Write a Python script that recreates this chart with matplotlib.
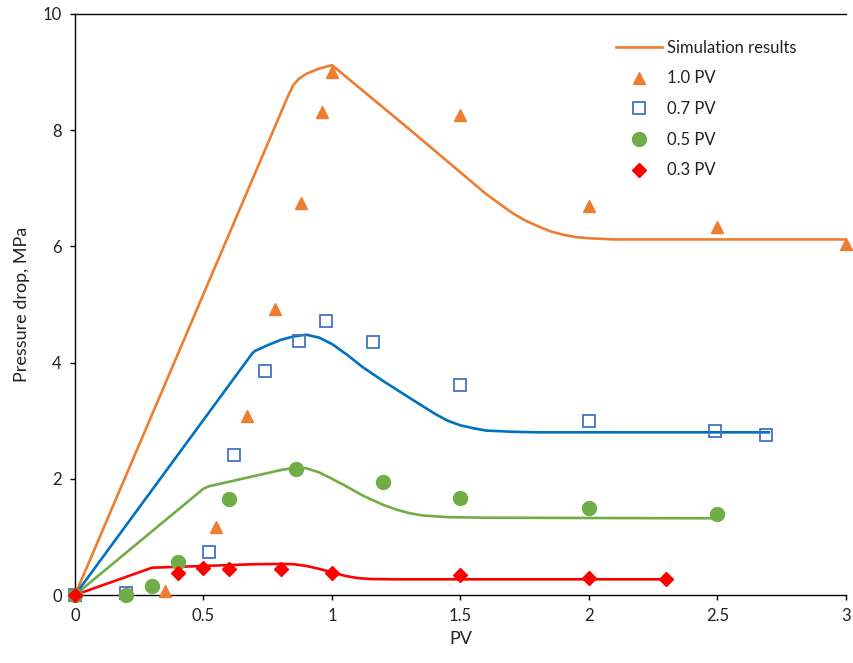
import matplotlib
matplotlib.use("Agg")
import matplotlib.pyplot as plt
from matplotlib.ticker import FixedLocator, FixedFormatter

plt.rcParams['font.family'] = ['Lato', 'DejaVu Sans']

# Simulation curves
sim10_x = [0, 0.83, 0.85, 0.87, 0.90, 0.95, 1.0, 1.3, 1.6, 1.65, 1.7, 1.75, 1.8, 1.85, 1.9, 1.95, 2.0, 2.1, 3.0]
sim10_y = [0, 8.6, 8.78, 8.88, 8.97, 9.06, 9.12, 8.02, 6.9, 6.74, 6.58, 6.45, 6.35, 6.26, 6.2, 6.16, 6.14, 6.12, 6.12]
sim07_x = [0, 0.69, 0.70, 0.75, 0.80, 0.85, 0.90, 0.95, 1.0, 1.06, 1.12, 1.2, 1.31, 1.4, 1.45, 1.5, 1.55, 1.6, 1.7, 1.8, 2.7]
sim07_y = [0, 4.16, 4.2, 4.3, 4.39, 4.45, 4.48, 4.43, 4.32, 4.13, 3.92, 3.68, 3.37, 3.12, 3.0, 2.92, 2.87, 2.83, 2.81, 2.80, 2.80]
sim05_x = [0, 0.5, 0.52, 0.6, 0.7, 0.8, 0.865, 0.9, 0.95, 1.0, 1.06, 1.12, 1.2, 1.25, 1.3, 1.35, 1.45, 1.6, 2.5]
sim05_y = [0, 1.83, 1.87, 1.95, 2.05, 2.15, 2.2, 2.18, 2.11, 2.0, 1.86, 1.71, 1.55, 1.47, 1.41, 1.37, 1.34, 1.33, 1.32]
sim03_x = [0, 0.3, 0.5, 0.7, 0.8, 0.85, 0.9, 0.95, 1.0, 1.05, 1.1, 1.15, 1.25, 2.3]
sim03_y = [0, 0.47, 0.5, 0.53, 0.535, 0.53, 0.5, 0.45, 0.39, 0.33, 0.29, 0.275, 0.27, 0.27]

# Experimental points
exp10_x = [0, 0.35, 0.55, 0.67, 0.78, 0.88, 0.96, 1.0, 1.5, 2.0, 2.5, 3.0]
exp10_y = [0, 0.07, 1.17, 3.08, 4.92, 6.75, 8.31, 9.0, 8.26, 6.7, 6.33, 6.04]
exp07_x = [0, 0.2, 0.52, 0.62, 0.74, 0.87, 0.976, 1.16, 1.5, 2.0, 2.49, 2.69]
exp07_y = [0, 0.03, 0.74, 2.41, 3.86, 4.37, 4.71, 4.35, 3.61, 3.0, 2.82, 2.75]
exp05_x = [0, 0.2, 0.3, 0.4, 0.6, 0.86, 1.2, 1.5, 2.0, 2.5]
exp05_y = [0, 0.0, 0.15, 0.57, 1.65, 2.17, 1.95, 1.67, 1.5, 1.39]
exp03_x = [0, 0.4, 0.5, 0.6, 0.8, 1.0, 1.5, 2.0, 2.3]
exp03_y = [0, 0.38, 0.46, 0.44, 0.44, 0.38, 0.34, 0.3, 0.28]

x_ticks = [0, 0.5, 1, 1.5, 2, 2.5, 3]
x_tick_labels = ["0", "0.5", "1", "1.5", "2", "2.5", "3"]
y_ticks = [0, 2, 4, 6, 8, 10]
y_tick_labels = ["0", "2", "4", "6", "8", "10"]

ORANGE = '#ED7D31'
BLUE = '#0070C0'
SQ = '#4472C4'
GREEN = '#70AD47'
RED = '#FF0000'

W, H = 854, 663
fig = plt.figure(figsize=(W / 100, H / 100), dpi=100)
ax = fig.add_axes([75 / W, (H - 595) / H, 771 / W, 581 / H])

lw = 1.9
ax.plot(sim10_x, sim10_y, color=ORANGE, lw=lw, label='Simulation results', zorder=2)
ax.plot(sim07_x, sim07_y, color=BLUE, lw=lw, zorder=2)
ax.plot(sim05_x, sim05_y, color=GREEN, lw=lw, zorder=2)
ax.plot(sim03_x, sim03_y, color=RED, lw=lw, zorder=2)

ax.plot(exp10_x, exp10_y, ls='none', marker='^', ms=9, color=ORANGE, mec=ORANGE, label='1.0 PV', zorder=3, clip_on=False)
ax.plot(exp07_x, exp07_y, ls='none', marker='s', ms=9, mfc='none', mec=SQ, mew=1.3, label='0.7 PV', zorder=3, clip_on=False)
ax.plot(exp05_x, exp05_y, ls='none', marker='o', ms=10, color=GREEN, mec=GREEN, label='0.5 PV', zorder=3, clip_on=False)
ax.plot(exp03_x, exp03_y, ls='none', marker='D', ms=7.5, color=RED, mec=RED, label='0.3 PV', zorder=3, clip_on=False)

ax.set_xlim(0, 3)
ax.set_ylim(0, 10)
ax.xaxis.set_major_locator(FixedLocator(x_ticks))
ax.xaxis.set_major_formatter(FixedFormatter(x_tick_labels))
ax.yaxis.set_major_locator(FixedLocator(y_ticks))
ax.yaxis.set_major_formatter(FixedFormatter(y_tick_labels))

for s in ax.spines.values():
    s.set_color('#000000')
    s.set_linewidth(1.0)
ax.spines['right'].set_visible(False)
ax.tick_params(direction='out', length=3.6, width=1.0, color='#000000',
               labelsize=12, labelcolor='#222222', pad=6)

ax.set_xlabel('PV', fontsize=13, color='#222222', labelpad=5)
ax.set_ylabel('Pressure drop, MPa', fontsize=13, color='#222222', labelpad=9)

leg = ax.legend(loc='upper left', bbox_to_anchor=(609 / W, 1 - 33 / H),
                bbox_transform=fig.transFigure, frameon=False, fontsize=12,
                handlelength=2.8, handletextpad=0.3, labelspacing=0.88,
                borderaxespad=0)
for t in leg.get_texts():
    t.set_color('#222222')

fig.savefig('out.png', dpi=100)
